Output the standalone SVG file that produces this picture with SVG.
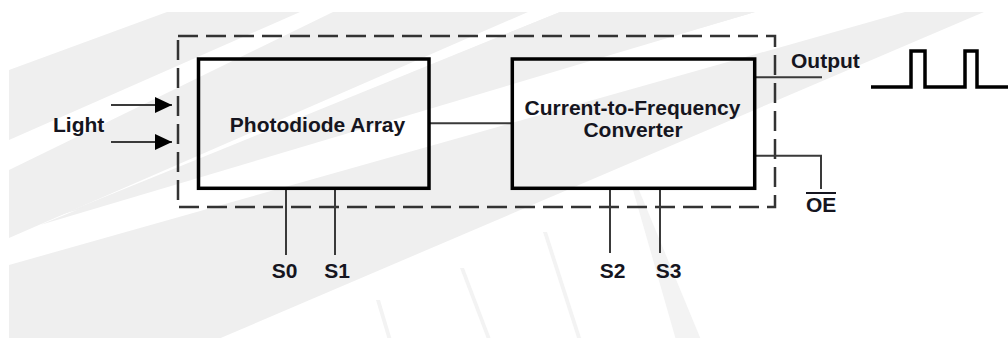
<svg xmlns="http://www.w3.org/2000/svg" width="1008" height="347" viewBox="0 0 1008 347">
<style>
.bg{fill:#efefef}
.ln{fill:#f3f3f3}
.box{fill:none;stroke:#000;stroke-width:3.5}
.w{stroke:#3a3a3a;stroke-width:2;fill:none}
.t{font-family:"Liberation Sans",Arial,sans-serif;font-weight:bold;font-size:21px;fill:#151520}
.m{text-anchor:middle}
</style>
<defs>
<clipPath id="cl"><rect x="9" y="12" width="999" height="326"/></clipPath>
<marker id="ah" markerWidth="18" markerHeight="16" refX="17" refY="8" orient="auto" markerUnits="userSpaceOnUse"><path d="M0,0 L17,8 L0,16 Z" fill="#000"/></marker>
</defs>
<rect width="1008" height="347" fill="#fff"/>
<g id="watermark" clip-path="url(#cl)">
<polygon class="bg" points="9,70 167,12 300,12 9,140"/>
<polygon class="bg" points="9,170 333,12 528,12 9,238"/>
<polygon class="bg" points="60,215 560,12 755,12 60,215"/>
<polygon class="bg" points="40,225 560,12 755,12"/>
<polygon class="bg" points="9,265 905,12 984,12 216,340 9,340"/>
<polygon class="ln" points="376,300 380,300 394,347 390,347"/>
<polygon class="ln" points="460,268 464,268 494,347 490,347"/>
<polygon class="ln" points="543,232 547,232 584,347 580,347"/>
<polygon class="ln" points="633,190 639,190 704,347 678,347"/>
</g>
<g id="frame">
<path d="M178,36 H775 V207 H178 Z" fill="none" stroke="#333" stroke-width="2.5" stroke-dasharray="20 8"/>
</g>
<g id="connectors">
<line class="w" x1="111" y1="105" x2="172" y2="105" marker-end="url(#ah)"/>
<line class="w" x1="111" y1="142" x2="172" y2="142" marker-end="url(#ah)"/>
<line class="w" x1="430" y1="123.3" x2="511" y2="123.3"/>
<line class="w" x1="286" y1="190" x2="286" y2="255"/>
<line class="w" x1="335" y1="190" x2="335" y2="255"/>
<line class="w" x1="610" y1="190" x2="610" y2="253"/>
<line class="w" x1="660" y1="190" x2="660" y2="253"/>
<line class="w" x1="756" y1="77.3" x2="822" y2="77.3"/>
<polyline class="w" points="756,155.7 821,155.7 821,189"/>
</g>
<g id="light-label">
<text class="t" x="53" y="132">Light</text>
</g>
<g id="photodiode-array">
<rect class="box" x="198.5" y="59" width="230.5" height="129.3"/>
<text class="t m" x="317.5" y="132">Photodiode Array</text>
</g>
<g id="converter">
<rect class="box" x="512.3" y="59" width="242.4" height="129.3"/>
<text class="t m" x="632.5" y="115">Current-to-Frequency</text>
<text class="t m" x="633" y="137">Converter</text>
</g>
<g id="pins">
<text class="t m" x="284.5" y="278">S0</text>
<text class="t m" x="337" y="278">S1</text>
<text class="t m" x="612.5" y="278">S2</text>
<text class="t m" x="668.5" y="278">S3</text>
<text class="t" x="791" y="68">Output</text>
<text class="t" x="806" y="212">OE</text>
<line x1="806" y1="193" x2="836" y2="193" stroke="#151520" stroke-width="2"/>
</g>
<g id="waveform">
<polyline points="871,87 911,87 911,51 925,51 925,87 965,87 965,51 977,51 977,87 1008,87" fill="none" stroke="#000" stroke-width="3.5"/>
</g>
</svg>
